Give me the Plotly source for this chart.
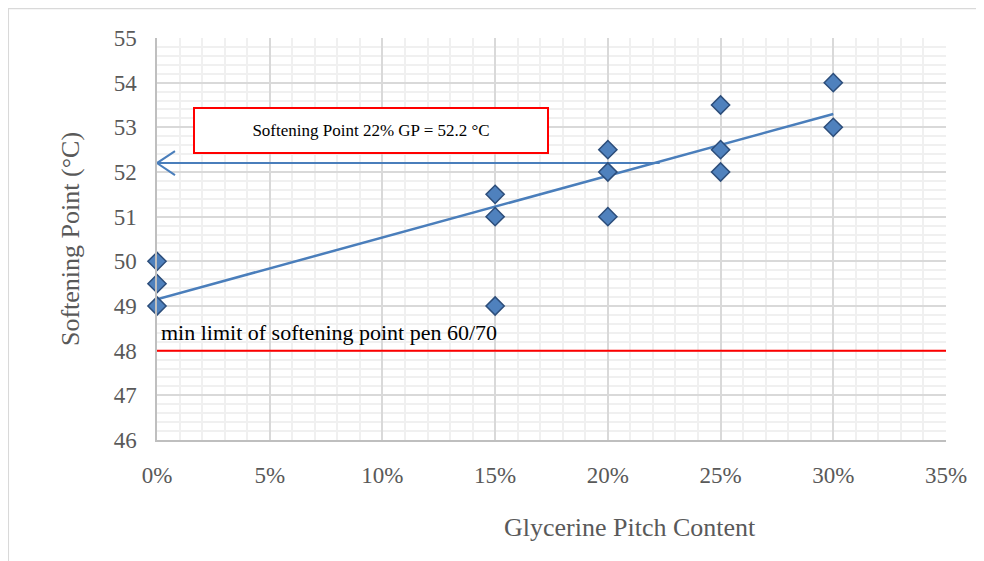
import plotly.graph_objects as go

# Data
gp_content = [0, 0, 0, 15, 15, 15, 20, 20, 20, 25, 25, 25, 30, 30]
softening_point = [50, 49.5, 49, 51.5, 51, 49, 52.5, 52, 51, 53.5, 52.5, 52, 54, 53]
trend_x = [0, 30]
trend_y = [49.15, 53.3]
target_gp = 22.3
target_sp = 52.2
min_limit = 48
x_ticks = [0, 5, 10, 15, 20, 25, 30, 35]
x_tick_labels = ["0%", "5%", "10%", "15%", "20%", "25%", "30%", "35%"]
y_ticks = [46, 47, 48, 49, 50, 51, 52, 53, 54, 55]

FONT = "Liberation Serif"
BLUE = "#4a7ebb"

fig = go.Figure()

# limit line
fig.add_trace(go.Scatter(x=[0, 35], y=[min_limit, min_limit], mode="lines",
                         line=dict(color="#ff0000", width=2), hoverinfo="skip",
                         showlegend=False, cliponaxis=False))
# arrow line
fig.add_trace(go.Scatter(x=[target_gp, 0], y=[target_sp, target_sp], mode="lines",
                         line=dict(color=BLUE, width=2), hoverinfo="skip",
                         showlegend=False, cliponaxis=False))
# trend line
fig.add_trace(go.Scatter(x=trend_x, y=trend_y, mode="lines",
                         line=dict(color=BLUE, width=2.5), showlegend=False))
# points
fig.add_trace(go.Scatter(x=gp_content, y=softening_point, mode="markers",
                         marker=dict(symbol="diamond", size=14, color="#4f81bd",
                                     line=dict(color="#2c4d7a", width=1.5)),
                         showlegend=False, cliponaxis=False))

shapes = [
    # open arrow head
    dict(type="path", xref="x", yref="y", xsizemode="pixel", ysizemode="pixel",
         xanchor=0, yanchor=target_sp, path="M 18,12 L 0,0 L 18,-12",
         line=dict(color=BLUE, width=2)),
    # outer border (left and top edges visible)
    dict(type="rect", xref="paper", yref="paper", x0=-0.1885, x1=1.2, y0=-0.5, y1=1.0735,
         line=dict(color="#d9d9d9", width=1.5), layer="below"),
]

annotations = [
    dict(x=0.1, y=min_limit, xref="x", yref="y", text="min limit of softening point pen 60/70",
         showarrow=False, xanchor="left", yanchor="bottom", yshift=4,
         font=dict(family=FONT, size=22, color="#000000")),
    dict(x=0.2712, y=0.770, xref="paper", yref="paper", xanchor="center", yanchor="middle",
         text="Softening Point 22% GP = 52.2 °C", showarrow=False,
         font=dict(family=FONT, size=17, color="#000000"),
         bordercolor="#ff0000", borderwidth=2, borderpad=0, bgcolor="white",
         width=352, height=43, align="center", valign="middle"),
    # x-axis title (offset to the right like the original)
    dict(x=0.5995, y=-0.2175, xref="paper", yref="paper", xanchor="center", yanchor="middle",
         text="Glycerine Pitch Content", showarrow=False,
         font=dict(family=FONT, size=26, color="#595959")),
]

fig.update_layout(
    width=976, height=553,
    margin=dict(l=149, r=38, t=30, b=121, autoexpand=False),
    paper_bgcolor="white", plot_bgcolor="white",
    font=dict(family=FONT, color="#595959"),
    shapes=shapes, annotations=annotations,
    xaxis=dict(range=[0, 35], tickvals=x_ticks, ticktext=x_tick_labels,
               showgrid=True, gridcolor="#d9d9d9", gridwidth=1.5,
               minor=dict(dtick=1, showgrid=True, gridcolor="#f0f0f0", gridwidth=1.5),
               showline=True, linecolor="#bfbfbf", linewidth=1.5, zeroline=False,
               tickfont=dict(family=FONT, size=23, color="#595959"),
               ticklabelstandoff=14, automargin=False),
    yaxis=dict(range=[46, 55], tickvals=y_ticks,
               showgrid=True, gridcolor="#d9d9d9", gridwidth=1.5,
               minor=dict(dtick=0.2, showgrid=True, gridcolor="#f0f0f0", gridwidth=1.5),
               showline=True, linecolor="#bfbfbf", linewidth=1.5, zeroline=False,
               tickfont=dict(family=FONT, size=23, color="#595959"),
               ticklabelstandoff=14, automargin=False,
               title=dict(text="Softening Point (°C)", standoff=27,
                          font=dict(family=FONT, size=26, color="#595959"))),
)

fig.write_html("out.html")
